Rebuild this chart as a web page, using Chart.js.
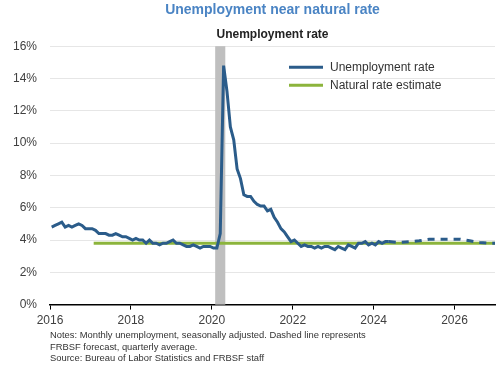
<!DOCTYPE html>
<html>
<head>
<meta charset="utf-8">
<script src="https://cdn.jsdelivr.net/npm/chart.js@4.4.1/dist/chart.umd.min.js"></script>
<style>
  body { margin: 0; background: #fff; }
  #wrap { position: relative; width: 500px; height: 365px; }
  #notes {
    position: absolute; left: 50px; top: 329px;
    font: 9.4px "Liberation Sans", Arial, sans-serif;
    line-height: 11.5px; color: #333;
  }
</style>
</head>
<body>
<div id="wrap">
  <canvas id="grafik" width="500" height="365"></canvas>
  <div id="notes">
    Notes: Monthly unemployment, seasonally adjusted. Dashed line represents<br>
    FRBSF forecast, quarterly average.<br>
    Source: Bureau of Labor Statistics and FRBSF staff
  </div>
</div>
<script>
// Aylık işsizlik oranı, Ocak 2016'dan itibaren
const ilkYil = 2016;
const issizlikOrani = [
  4.8, 4.9, 5.0, 5.1, 4.8, 4.9, 4.8, 4.9, 5.0, 4.9, 4.7, 4.7,
  4.7, 4.6, 4.4, 4.4, 4.4, 4.3, 4.3, 4.4, 4.3, 4.2, 4.2, 4.1,
  4.0, 4.1, 4.0, 4.0, 3.8, 4.0, 3.8, 3.8, 3.7, 3.8, 3.8, 3.9,
  4.0, 3.8, 3.8, 3.7, 3.6, 3.6, 3.7, 3.6, 3.5, 3.6, 3.6, 3.6,
  3.5, 3.5, 4.4, 14.8, 13.2, 11.0, 10.2, 8.4, 7.8, 6.8, 6.7, 6.7,
  6.4, 6.2, 6.1, 6.1, 5.8, 5.9, 5.4, 5.1, 4.7, 4.5, 4.2, 3.9,
  4.0, 3.8, 3.6, 3.7, 3.6, 3.6, 3.5, 3.6, 3.5, 3.6, 3.6, 3.5,
  3.4, 3.6, 3.5, 3.4, 3.7, 3.6, 3.5, 3.8, 3.8, 3.9, 3.7, 3.8,
  3.7, 3.9, 3.8, 3.9, 3.9
];

// FRBSF tahmini, çeyreklik ortalama
const tahminCeyrek = ["2024Q3", "2024Q4", "2025Q1", "2025Q2", "2025Q3", "2025Q4",
  "2026Q1", "2026Q2", "2026Q3", "2026Q4", "2027Q1"];
const tahminOrani = [3.85, 3.9, 3.95, 4.05, 4.05, 4.05, 4.05, 3.95, 3.85, 3.8, 3.8];

// Doğal oran tahmini
const dogalOranYillar = [2017.08, 2027];
const dogalOran = [3.8, 3.8];

// Resesyon dönemi (Şubat - Nisan 2020)
const resesyon = [2020.083, 2020.333];

const xEkseni = [2016, 2027];
const xEtiketleri = [2016, 2018, 2020, 2022, 2024, 2026];
const yEkseni = [0, 16];

const aySayisi = (i) => ilkYil + i / 12 + 1 / 24;
const ceyrekX = (c) => parseInt(c.slice(0, 4)) + (parseInt(c.slice(5)) - 1) / 4 + 1 / 8;

const gercekVeri = issizlikOrani.map((v, i) => ({ x: aySayisi(i), y: v }));
const sonNokta = gercekVeri[gercekVeri.length - 1];
const tahminVeri = [sonNokta].concat(
  tahminCeyrek.map((c, i) => ({ x: ceyrekX(c), y: tahminOrani[i] }))
);
const dogalVeri = dogalOranYillar.map((x, i) => ({ x: x, y: dogalOran[i] }));

const maviRenk = "#2b5c8a";
const yesilRenk = "#8cb43c";
const yazi = '"Liberation Sans", Arial, sans-serif';

// Gri resesyon bandı
const resesyonBandi = {
  id: "resesyonBandi",
  beforeDatasetsDraw(chart) {
    const { ctx, chartArea, scales } = chart;
    const x1 = scales.x.getPixelForValue(resesyon[0]);
    const x2 = scales.x.getPixelForValue(resesyon[1]);
    ctx.save();
    ctx.fillStyle = "#bfbfbf";
    ctx.fillRect(x1, chartArea.top, x2 - x1, chartArea.bottom - chartArea.top);
    ctx.restore();
  },
};

// Grafik içindeki açıklama
const icLejant = {
  id: "icLejant",
  afterDraw(chart) {
    const { ctx, chartArea } = chart;
    const ogeler = [
      { metin: "Unemployment rate", renk: maviRenk },
      { metin: "Natural rate estimate", renk: yesilRenk },
    ];
    ctx.save();
    ctx.font = "12px " + yazi;
    ctx.textBaseline = "middle";
    ogeler.forEach((oge, i) => {
      const y = chartArea.top + 21 + i * 18;
      const x = chartArea.right - 206;
      ctx.strokeStyle = oge.renk;
      ctx.lineWidth = 3;
      ctx.beginPath();
      ctx.moveTo(x, y);
      ctx.lineTo(x + 34, y);
      ctx.stroke();
      ctx.fillStyle = "#333";
      ctx.fillText(oge.metin, x + 41, y);
    });
    ctx.restore();
  },
};

new Chart(document.getElementById("grafik"), {
  type: "line",
  data: {
    datasets: [
      {
        label: "Unemployment rate",
        data: gercekVeri,
        borderColor: maviRenk,
        borderWidth: 3,
        pointRadius: 0,
        tension: 0,
      },
      {
        label: "Forecast",
        data: tahminVeri,
        borderColor: maviRenk,
        borderWidth: 3,
        borderDash: [7, 6],
        pointRadius: 0,
      },
      {
        label: "Natural rate estimate",
        data: dogalVeri,
        borderColor: yesilRenk,
        borderWidth: 3,
        pointRadius: 0,
      },
    ],
  },
  options: {
    responsive: false,
    animation: false,
    layout: { padding: { left: 0, right: 5, bottom: 33 } },
    plugins: {
      legend: { display: false },
      tooltip: { enabled: false },
      title: {
        display: true,
        fullSize: false,
        text: "Unemployment near natural rate",
        color: "#4a84c4",
        font: { family: yazi, size: 14, weight: "bold" },
        padding: { top: 2, bottom: 8 },
      },
      subtitle: {
        display: true,
        fullSize: false,
        text: "Unemployment rate",
        color: "#222",
        font: { family: yazi, size: 12, weight: "bold" },
        padding: { top: 1, bottom: 4 },
      },
    },
    scales: {
      x: {
        type: "linear",
        min: xEkseni[0],
        max: xEkseni[1],
        afterBuildTicks: (olcek) => {
          olcek.ticks = xEtiketleri.map((v) => ({ value: v }));
        },
        ticks: {
          color: "#404040",
          font: { family: yazi, size: 12 },
          padding: 4,
          callback: (v) => String(v),
        },
        grid: {
          drawOnChartArea: false,
          drawTicks: true,
          tickLength: 5,
          color: "#000",
        },
        border: { color: "#000", width: 1.5 },
      },
      y: {
        min: yEkseni[0],
        max: yEkseni[1],
        ticks: {
          stepSize: 2,
          color: "#404040",
          font: { family: yazi, size: 12 },
          padding: 13,
          callback: (v) => v + "%",
        },
        grid: { color: "#e6e6e6", drawTicks: false },
        border: { display: false },
        afterFit: (olcek) => {
          olcek.width = 50;
        },
      },
    },
  },
  plugins: [resesyonBandi, icLejant],
});
</script>
</body>
</html>
